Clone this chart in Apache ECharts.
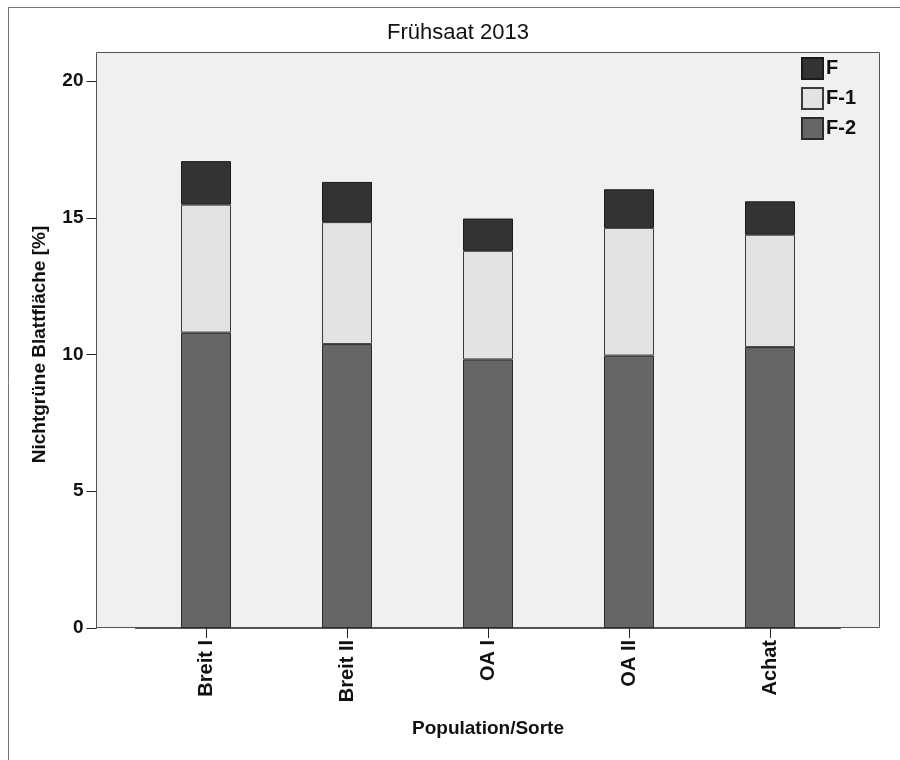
<!DOCTYPE html>
<html>
<head>
<meta charset="utf-8">
<script src="https://cdn.jsdelivr.net/npm/echarts@6/dist/echarts.min.js"></script>
<style>
html,body{margin:0;padding:0;background:#fff;}
#main{width:900px;height:760px;}
</style>
</head>
<body>
<div id="main"></div>
<script>
const categories = ['Breit I', 'Breit II', 'OA I', 'OA II', 'Achat'];
const seriesF2 = [10.80, 10.38, 9.82, 9.96, 10.27];
const seriesF1 = [4.68, 4.46, 3.97, 4.67, 4.11];
const seriesF  = [1.59, 1.47, 1.18, 1.41, 1.22];
const yTicks = [0, 5, 10, 15, 20];

const FONT = '"Liberation Sans", Arial, sans-serif';
const chart = echarts.init(document.getElementById('main'), null, {renderer: 'canvas'});

const barBase = {
  type: 'bar',
  stack: 'total',
  barWidth: 50,
  animation: false
};

chart.setOption({
  backgroundColor: '#ffffff',
  animation: false,
  title: {
    text: 'Frühsaat 2013',
    left: 387,
    top: 22,
    padding: 0,
    textStyle: {fontFamily: FONT, fontSize: 22, fontWeight: 'normal', color: '#111'}
  },
  graphic: [
    {type: 'line', z: -10, shape: {x1: 8, y1: 7.5, x2: 900, y2: 7.5}, style: {stroke: '#777', lineWidth: 1}},
    {type: 'line', z: -10, shape: {x1: 8.5, y1: 7, x2: 8.5, y2: 760}, style: {stroke: '#777', lineWidth: 1}},
    {type: 'rect', z: -5, shape: {x: 96.5, y: 52.5, width: 783, height: 575}, style: {fill: '#f0f0f0', stroke: '#555', lineWidth: 1}}
  ],
  legend: {
    orient: 'vertical',
    left: 801,
    top: 57,
    padding: 0,
    icon: 'rect',
    itemWidth: 21,
    itemHeight: 21,
    itemGap: 7,
    data: ['F', 'F-1', 'F-2'],
    textStyle: {fontFamily: FONT, fontSize: 20, fontWeight: 'bold', color: '#111', padding: [0, 0, 0, -2]}
  },
  grid: {left: 135.5, right: 59.5, top: 81, height: 547, containLabel: false},
  xAxis: {
    type: 'category',
    data: categories,
    name: 'Population/Sorte',
    nameLocation: 'middle',
    nameGap: 91,
    nameTextStyle: {fontFamily: FONT, fontSize: 19, fontWeight: 'bold', color: '#111', verticalAlign: 'top'},
    axisLine: {show: true, lineStyle: {color: '#555', width: 1}},
    axisTick: {show: true, alignWithLabel: true, length: 10, lineStyle: {color: '#222', width: 1}},
    axisLabel: {rotate: 90, margin: 12, fontFamily: FONT, fontSize: 20, fontWeight: 'bold', color: '#111'},
    splitLine: {show: false}
  },
  yAxis: {
    type: 'value',
    min: 0,
    max: 20,
    interval: 5,
    offset: 39,
    name: 'Nichtgrüne Blattfläche [%]',
    nameLocation: 'middle',
    nameRotate: 90,
    nameGap: 47,
    nameTextStyle: {fontFamily: FONT, fontSize: 19, fontWeight: 'bold', color: '#111', padding: [0, 0, 0, 20]},
    axisLine: {show: true, lineStyle: {color: '#555', width: 1}},
    axisTick: {show: true, length: 10, lineStyle: {color: '#222', width: 1}},
    axisLabel: {
      margin: 13, fontFamily: FONT, fontSize: 19, fontWeight: 'bold', color: '#111',
      formatter: function (v) { return yTicks.indexOf(v) >= 0 ? String(v) : ''; }
    },
    splitLine: {show: false}
  },
  series: [
    Object.assign({}, barBase, {name: 'F-2', data: seriesF2, itemStyle: {color: '#666666', borderColor: '#2a2a2a', borderWidth: 1}}),
    Object.assign({}, barBase, {name: 'F-1', data: seriesF1, itemStyle: {color: '#e3e3e3', borderColor: '#3a3a3a', borderWidth: 1}}),
    Object.assign({}, barBase, {name: 'F', data: seriesF, itemStyle: {color: '#333333', borderColor: '#1a1a1a', borderWidth: 1}})
  ]
});
</script>
</body>
</html>
